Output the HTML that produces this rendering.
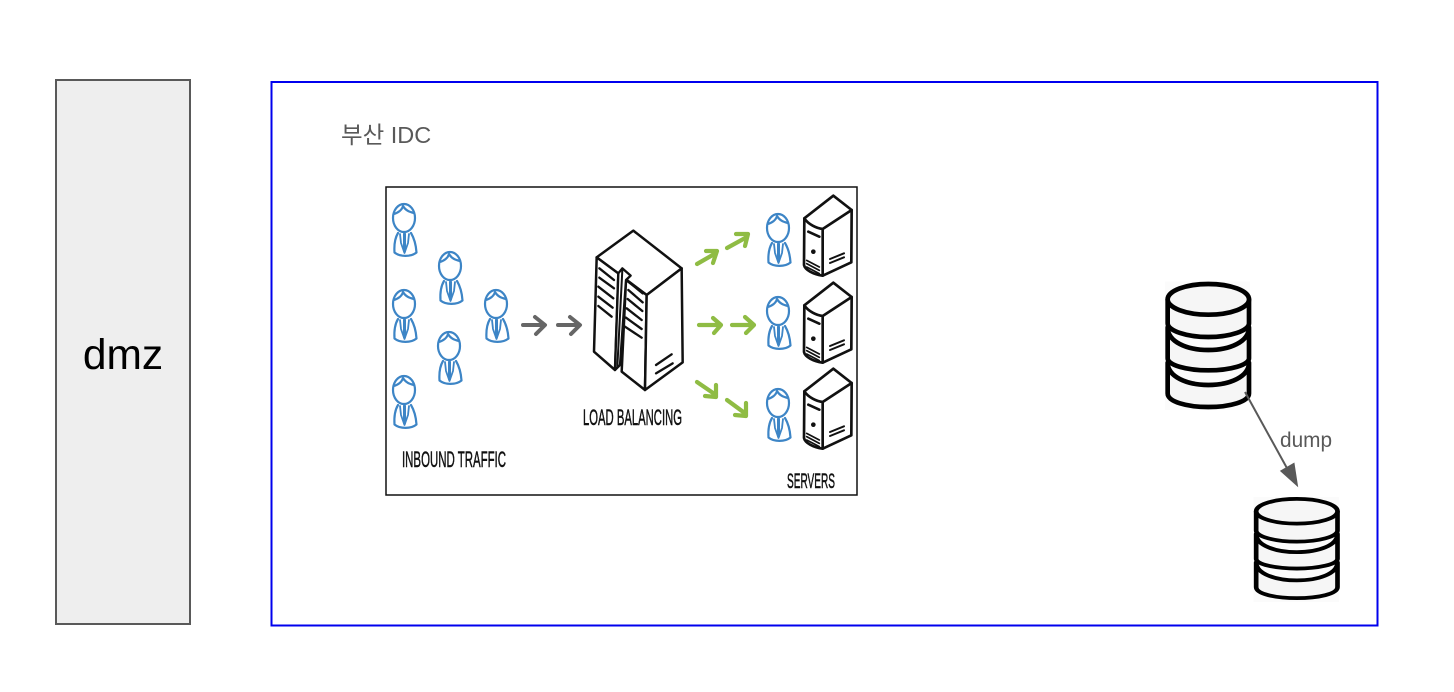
<!DOCTYPE html>
<html lang="ko">
<head>
<meta charset="utf-8">
<title>부산 IDC</title>
<style>
html,body{margin:0;padding:0;background:#fff;width:1454px;height:692px;overflow:hidden}
svg{display:block}
.g{font-family:"Liberation Sans","Noto Sans CJK KR",sans-serif}
.h{font-family:"Liberation Sans Narrow","Liberation Sans",sans-serif;fill:#111;stroke:#111;stroke-width:.5}
</style>
</head>
<body>
<svg width="1454" height="692" viewBox="0 0 1454 692" xmlns="http://www.w3.org/2000/svg">
<defs>
  <g id="person" fill="none" stroke="#3d85c6" stroke-width="2.200" stroke-linecap="round" stroke-linejoin="round">
    <ellipse cx="0" cy="0" rx="11" ry="14"/>
    <path d="M-10.500,-4 C-6,-5 -2,-8 -1,-12 C2,-7 6,-6 10,-5"/>
    <path d="M-6,15 C-9,20 -10,27 -9.500,34.500 C-4,39 7,39 12.500,34.500 C12,27 10,20 7,15"/>
    <path d="M-4,16 L-3,25 L0.500,35 L4,25 L5,16" stroke-width="1.800"/>
    <path d="M0.500,16 V33" stroke-width="3"/>
  </g>
  <g id="server" fill="none" stroke="#111" stroke-linecap="round" stroke-linejoin="round">
    <g transform="translate(620 185) scale(.33333)">
      <path d="M640,32 L695,75 L694,232 L608,272 C580,268 555,255 552,240 L553,100 Z" fill="#fff" stroke-width="8"/>
      <path d="M553,100 C565,118 590,130 608,132 L695,75 M608,132 L608,272" stroke-width="8"/>
      <path d="M565,140 L598,155" stroke-width="8"/>
      <circle cx="580" cy="200" r="5" fill="#111" stroke-width="4"/>
      <path d="M560,236 L598,256 M560,246 L598,266 M560,226 L598,246" stroke-width="5"/>
      <path d="M630,222 L672,205 M630,234 L672,217" stroke-width="6"/>
    </g>
  </g>
  <g id="db" fill="#f6f6f6" stroke="#000" stroke-width="14" stroke-linejoin="round">
    <path d="M53,278 V370 C53,395 110,411 175,411 C240,411 297,395 297,370 V278 C297,320 240,345 175,345 C110,345 53,320 53,278 Z"/>
    <path d="M53,172 V265 C53,285 110,301 175,301 C240,301 297,285 297,265 V172 C297,215 240,240 175,240 C110,240 53,215 53,172 Z"/>
    <path d="M53,88 V160 C53,182 110,201 175,201 C240,201 297,182 297,160 V88 Z"/>
    <ellipse cx="175" cy="88" rx="122" ry="46"/>
  </g>
</defs>

<rect x="56" y="80" width="134" height="544" fill="#eeeeee" stroke="#595959" stroke-width="2"/>
<text class="g" x="123" y="369" font-size="42.500" text-anchor="middle" fill="#000">dmz</text>

<rect x="271.500" y="82" width="1106" height="543.500" fill="#fff" stroke="#0000ee" stroke-width="2"/>
<text class="g" x="341" y="143" font-size="23.500" fill="#595959">부산 IDC</text>

<rect x="386" y="187" width="471" height="308" fill="#fff" stroke="#111" stroke-width="1.500"/>

<use href="#person" x="404" y="218"/>
<use href="#person" x="450" y="266"/>
<use href="#person" x="404" y="304"/>
<use href="#person" x="496" y="304"/>
<use href="#person" x="449" y="346"/>
<use href="#person" x="404" y="390"/>
<use href="#person" x="778" y="228"/>
<use href="#person" x="778" y="311"/>
<use href="#person" x="778" y="403"/>

<g fill="none" stroke="#666" stroke-width="4" stroke-linecap="round" stroke-linejoin="round">
  <path d="M523,325 H544 M535,317 L545,325 L536,334"/>
  <path d="M558,325 H579 M570,317 L580,325 L571,334"/>
</g>

<g fill="none" stroke="#8fbc44" stroke-width="4.200" stroke-linecap="round" stroke-linejoin="round">
  <path d="M697,264 L716,253 M706,251 L717,251 L713,263"/>
  <path d="M727,248 L747,237 M736,234 L748,234 L745,246"/>
  <path d="M699,325 L720,325 M713,318 L721,325 L714,333"/>
  <path d="M732,325 L753,325 M745,317 L754,325 L746,333"/>
  <path d="M697,382 L716,395 M716,385 L716,397 L705,396"/>
  <path d="M727,400 L746,414 M746,403 L746,416 L735,415"/>
</g>

<g transform="translate(590 225) scale(.33333)" fill="#fff" stroke="#111" stroke-width="7.500" stroke-linejoin="round" stroke-linecap="round">
  <path d="M20,97 L130,17 L275,130 L170,210 Z"/>
  <path d="M20,97 L85,145 L75,435 L12,380 Z"/>
  <path d="M108,165 L170,210 L165,495 L95,440 Z"/>
  <path d="M170,210 L275,130 L278,412 L165,495 Z"/>
  <path d="M85,145 L97,130 L122,152 L108,165 L90,420 L75,435 Z" stroke-width="7"/>
  <path d="M97,135 L82,425" stroke-width="6"/>
  <path d="M28,130 L72,165 M28,158 L72,190 M25,185 L70,220 M25,215 L68,248 M25,243 L65,275" stroke-width="7"/>
  <path d="M115,170 L158,205 M115,195 L158,232 M113,222 L157,258 M110,250 L155,285 M108,278 L155,312 M105,305 L155,338" stroke-width="7"/>
  <path d="M198,420 L245,388 M198,445 L248,415" stroke-width="7"/>
</g>

<use href="#server"/>
<use href="#server" y="87"/>
<use href="#server" y="173"/>

<text class="h" x="402" y="467" font-size="22" textLength="104" lengthAdjust="spacingAndGlyphs">INBOUND TRAFFIC</text>
<text class="h" x="583" y="425" font-size="22" textLength="99" lengthAdjust="spacingAndGlyphs">LOAD BALANCING</text>
<text class="h" x="787" y="488" font-size="21" textLength="48" lengthAdjust="spacingAndGlyphs">SERVERS</text>

<rect x="1165" y="281.500" width="85" height="128.500" fill="#fbfbfb"/>
<g transform="translate(1150 270) scale(.33333)"><use href="#db"/></g>

<rect x="1253.500" y="497" width="85.500" height="105" fill="#fbfbfb"/>
<g transform="translate(1238.500 487.600) scale(.33333 .269)"><use href="#db"/></g>

<path d="M1245,392 L1288,470" fill="none" stroke="#595959" stroke-width="2"/>
<path d="M1297.500,486 L1280.700,471 L1294,463.300 Z" fill="#595959" stroke="#595959" stroke-width="1"/>
<text class="g" x="1280" y="447" font-size="20.800" fill="#595959">dump</text>
</svg>
</body>
</html>
